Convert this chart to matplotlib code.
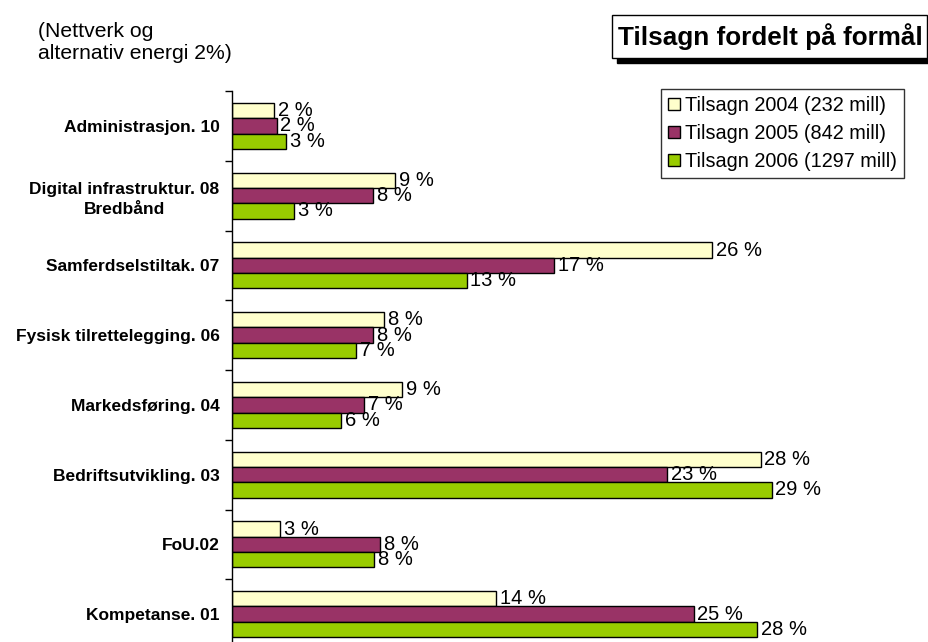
import matplotlib
matplotlib.use("Agg")
import matplotlib.pyplot as plt
from matplotlib.patches import Rectangle, Patch
import numpy as np

plt.rcParams['font.family'] = ['Liberation Sans', 'DejaVu Sans']

categories = ["Administrasjon. 10", "Digital infrastruktur. 08\nBredbånd", "Samferdselstiltak. 07",
              "Fysisk tilrettelegging. 06", "Markedsføring. 04", "Bedriftsutvikling. 03",
              "FoU.02", "Kompetanse. 01"]
series_names = ["Tilsagn 2004 (232 mill)", "Tilsagn 2005 (842 mill)", "Tilsagn 2006 (1297 mill)"]
v2004 = [2.26, 8.76, 25.8, 8.17, 9.14, 28.4, 2.6, 14.2]
v2005 = [2.4, 7.58, 17.3, 7.58, 7.1, 23.4, 7.96, 24.8]
v2006 = [2.9, 3.33, 12.6, 6.67, 5.86, 29.0, 7.63, 28.2]
colors = ["#FFFFCC", "#993366", "#99CC00"]

fig = plt.figure(figsize=(9.29, 6.42), dpi=100)
ax = fig.add_axes([232/929, 1-649/642, 670/929, 558/642])

n = len(categories)
ypos = np.arange(n)[::-1]  # first category at top
h = 0.22
offsets = [h, 0, -h]
for vals, col, off, name in zip([v2004, v2005, v2006], colors, offsets, series_names):
    ax.barh(ypos + off, vals, height=h, color=col, edgecolor='black', linewidth=1.0, label=name)
    for y, v in zip(ypos + off, vals):
        ax.text(v + 0.2, y, f"{round(v)} %", va='center', ha='left', fontsize=14.5)

ax.set_xlim(0, 36)
ax.set_ylim(-0.5, n - 0.5)
for s in ['top', 'right', 'bottom']:
    ax.spines[s].set_visible(False)
ax.spines['left'].set_linewidth(1.0)
ax.set_xticks([])
ax.set_yticks(ypos)
ax.set_yticklabels(categories, fontweight='bold', fontsize=12.5, multialignment='center',
                   linespacing=1.4)
ax.tick_params(axis='y', which='major', length=0, pad=9)
ax.set_yticks(np.arange(-0.5, n, 1.0), minor=True)
ax.tick_params(axis='y', which='minor', length=5, width=1.0, direction='out')

# Title box with shadow
tx0, ty0, tw, th = 612/929, 1-58/642, 315/929, 43/642
fig.patches.append(Rectangle((tx0 + 5/929, ty0 - 5/642), tw, th, transform=fig.transFigure,
                             facecolor='black', edgecolor='black', zorder=1))
fig.patches.append(Rectangle((tx0, ty0), tw, th, transform=fig.transFigure,
                             facecolor='white', edgecolor='black', linewidth=1.0, zorder=2))
fig.text(tx0 + tw/2 + 1/929, ty0 + th/2, "Tilsagn fordelt på formål", ha='center', va='center',
         fontsize=18.8, fontweight='bold', zorder=3)

fig.text(38/929, 1-22/642, "(Nettverk og\nalternativ energi 2%)", ha='left', va='top',
         fontsize=15.2, linespacing=1.2)

handles = [Patch(facecolor=c, edgecolor='black', linewidth=1.0) for c in colors]
leg = fig.legend(handles, series_names, loc='upper right', bbox_to_anchor=(904/929, 1-89/642),
                 fontsize=14.3, frameon=True, fancybox=False, handlelength=0.6, handleheight=0.6,
                 handletextpad=0.25, borderpad=0.35, labelspacing=0.45, borderaxespad=0)
leg.get_frame().set_edgecolor('black')
leg.get_frame().set_linewidth(1.0)

fig.savefig("out.png", dpi=100)
